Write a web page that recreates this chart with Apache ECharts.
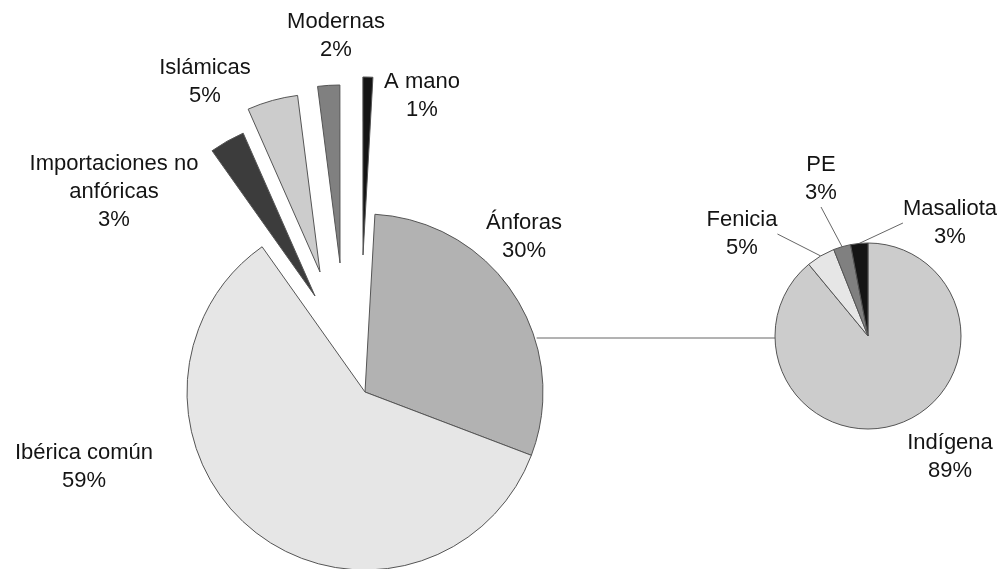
<!DOCTYPE html>
<html><head><meta charset="utf-8">
<script src="https://cdn.jsdelivr.net/npm/echarts/dist/echarts.min.js"></script>
<style>html,body{margin:0;padding:0;background:#fff}#c{width:1000px;height:569px}</style>
</head><body><div id="c"></div>
<script>
// ---- data ----
const mainCategories = ['Ánforas', 'Ibérica común', 'Importaciones no anfóricas', 'Islámicas', 'Modernas', 'A mano'];
const mainValues = [29.9, 59.4, 3.2, 4.6, 2.0, 0.9];
const subCategories = ['Indígena', 'Fenicia', 'PE', 'Masaliota'];
const subValues = [89, 5, 3, 3];

// ---- styling / layout ----
const mainColors = ['#b2b2b2', '#e6e6e6', '#3c3c3c', '#cccccc', '#808080', '#141414'];
const subColors = ['#cccccc', '#e6e6e6', '#808080', '#141414'];
const mainCenter = [365, 392], mainR = 178;
const subCenter = [868, 336], subR = 93;
const startAngle = 90 - 3.2;
const explodeOffset = { 2: [-50, -96], 3: [-45, -120], 4: [-25, -129], 5: [-2, -137] };
const mainLabelAt = [[524, 237], [84, 467], [114, 192], [205, 82], [336, 36], [422, 96]];
const subLabelAt = [[742, 234], [742, 234], [821, 179], [950, 223]];
subLabelAt[0] = [950, 457];
const subLabelLine = [false, true, true, true];
const borderCol = '#555';
const font = { fontSize: 22, fontFamily: 'Liberation Sans, Arial, sans-serif', color: '#141414', lineHeight: 28, align: 'center' };

function fmt(p) {
  const name = p.name === 'Importaciones no anfóricas' ? 'Importaciones no\nanfóricas' : p.name;
  return name + '\n' + p.percent + '%';
}

const series = [];
// main pie (non-exploded slices drawn here, all labels here)
series.push({
  type: 'pie', center: mainCenter, radius: mainR, startAngle: startAngle, clockwise: true,
  avoidLabelOverlap: false, silent: true, percentPrecision: 0,
  data: mainCategories.map((n, i) => ({
    name: n, value: mainValues[i],
    itemStyle: explodeOffset[i] ? { color: 'transparent', borderWidth: 0 } : { color: mainColors[i], borderColor: borderCol, borderWidth: 1 }
  })),
  label: Object.assign({ show: true, position: 'outside', formatter: fmt }, font),
  labelLine: { show: false },
  labelLayout: function (p) {
    const a = mainLabelAt[p.dataIndex];
    return { x: a[0], y: a[1], align: 'center', verticalAlign: 'middle' };
  },
  emphasis: { disabled: true }
});
// exploded slices
Object.keys(explodeOffset).forEach(k => {
  const idx = +k, off = explodeOffset[k];
  series.push({
    type: 'pie', center: [mainCenter[0] + off[0], mainCenter[1] + off[1]], radius: mainR,
    startAngle: startAngle, clockwise: true, silent: true,
    label: { show: false }, labelLine: { show: false }, emphasis: { disabled: true },
    data: mainCategories.map((n, j) => ({
      name: n, value: mainValues[j],
      itemStyle: j === idx ? { color: mainColors[j], borderColor: borderCol, borderWidth: 1 } : { color: 'transparent', borderWidth: 0 }
    }))
  });
});
// secondary pie
series.push({
  type: 'pie', center: subCenter, radius: subR, startAngle: 90, clockwise: true,
  avoidLabelOverlap: false, silent: true, percentPrecision: 0,
  data: subCategories.map((n, i) => ({
    name: n, value: subValues[i],
    itemStyle: { color: subColors[i], borderColor: borderCol, borderWidth: 1 },
    labelLine: { show: subLabelLine[i] }
  })),
  label: Object.assign({ show: true, position: 'outside', formatter: fmt }, font),
  labelLine: { length: 0, length2: 0, lineStyle: { color: '#666', width: 1 } },
  labelLayout: function (p) {
    const a = subLabelAt[p.dataIndex];
    return { x: a[0], y: a[1], align: 'center', verticalAlign: 'middle' };
  },
  emphasis: { disabled: true }
});

const dy = mainCenter[1] - (subCenter[1] + 2);
const x1 = mainCenter[0] + Math.sqrt(mainR * mainR - dy * dy);
const chart = echarts.init(document.getElementById('c'), null, { renderer: 'canvas' });
chart.setOption({
  backgroundColor: '#fff',
  animation: false,
  series: series,
  graphic: [{
    type: 'line', silent: true,
    shape: { x1: x1 + 2, y1: subCenter[1] + 2, x2: subCenter[0] - subR, y2: subCenter[1] + 2 },
    style: { stroke: '#666', lineWidth: 1 }
  }]
});
</script></body></html>
